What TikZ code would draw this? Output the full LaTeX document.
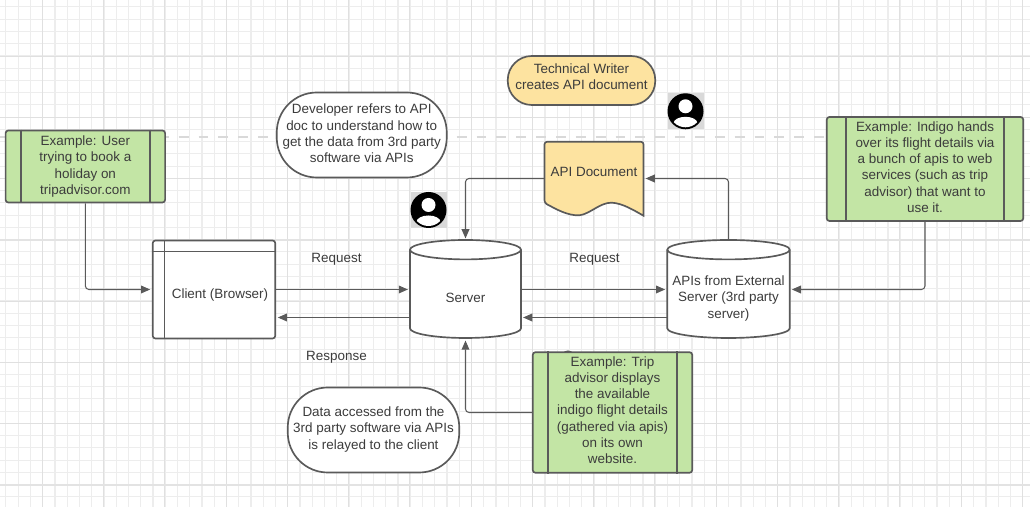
\documentclass[tikz,border=0pt]{standalone}
\usepackage{fontspec}
\setmainfont{Liberation Sans}
\usetikzlibrary{arrows.meta}

\definecolor{inkgray}{HTML}{5A5A5A}
\definecolor{textgray}{HTML}{3C3C3C}
\definecolor{notegreen}{HTML}{C3E5A5}
\definecolor{docyellow}{HTML}{FDE3A0}

% extra depth under the last line lifts a text block inside its node
\newcommand{\liftby}[1]{\rule[-#1]{0pt}{0pt}}

\tikzset{
  gridminor/.style={draw=black!7,line width=0.35pt},
  gridwide/.style={draw=black!7,line width=0.8pt},
  griddark/.style={draw=black!12,line width=0.4pt},
  gridmajor/.style={draw=black!11,line width=1.1pt},
  boxline/.style={draw=inkgray,line width=0.95pt},
  labeltext/.style={text=textgray,font=\fontsize{7.65}{9.25}\selectfont,align=center,inner sep=0pt},
  examplebox/.style={labeltext,boxline,fill=notegreen,rectangle,rounded corners=1.5pt},
  bubble/.style={labeltext,boxline,fill=white,rectangle,rounded corners=0.8cm,minimum height=1.7cm},
  flow/.style={draw=inkgray,line width=0.6pt,rounded corners=2pt,shorten >=1pt,-{Triangle[length=5.2pt,width=4.4pt]}},
  personicon/.pic={
    \fill[black!15] (-0.36,-0.36) rectangle (0.36,0.36);
    \fill[black] (0,0) circle (0.36);
    \fill[white] (0,0.1) circle (0.14);
    \begin{scope}
      \clip (0,0) circle (0.32);
      \fill[white] (0,-0.24) ellipse (0.24 and 0.13);
    \end{scope}
  }
}

\begin{document}
\begin{tikzpicture}

    \useasboundingbox (0,0) rectangle (20.6,10.14);
    \fill[white] (0,0) rectangle (20.6,10.14);

    % Grid of the drawing page
    \foreach \n in {0,...,84} \draw[gridminor] ({0.116+0.245*\n},0) -- ({0.116+0.245*\n},10.14);
    \foreach \n in {0,...,40} \draw[gridminor] (0,{0.206+0.245*\n}) -- (20.6,{0.206+0.245*\n});
    \foreach \n in {0,...,20} \draw[gridwide] ({1.1+0.98*\n},0) -- ({1.1+0.98*\n},10.14);
    \foreach \n in {0,...,9} \draw[gridwide] (0,{0.45+0.98*\n}) -- (20.6,{0.45+0.98*\n});
    \foreach \n in {0,...,16} \draw[griddark] ({0.846+1.225*\n},0) -- ({0.846+1.225*\n},10.14);
    \foreach \n in {0,...,7} \draw[griddark] (0,{0.44+1.225*\n}) -- (20.6,{0.44+1.225*\n});
    \draw[gridmajor] (0,0.44) -- (20.6,0.44);
    \draw[gridmajor] (0,5.34) -- (20.6,5.34);

    % Dashed page break
    \draw[draw=black!15,line width=1.1pt,dash pattern=on 5.6pt off 5.7pt] (0,7.4) -- (20.6,7.4);

    % Example notes
    \node[examplebox,minimum width=3.19cm,minimum height=1.44cm] (userex) at (1.707,6.81)
        {Example: User\\trying to book a\\holiday on\\tripadvisor.com};
    \node[examplebox,minimum width=3.93cm,minimum height=2.08cm] (indigoex) at (18.5,6.76)
        {Example: Indigo hands\\over its flight details via\\a bunch of apis to web\\services (such as trip\\advisor) that want to\\use it.\liftby{2.3pt}};
    \fill[inkgray] (11.36,3.08) ellipse (0.09 and 0.05);
    \node[examplebox,minimum width=3.19cm,minimum height=2.41cm] (tripex) at (12.25,1.89)
        {Example: Trip\\advisor displays\\the available\\indigo flight details\\(gathered via apis)\\on its own\\website.\liftby{2.8pt}};

    % Side bars of the example notes
    \foreach \note/\off in {userex/0.32,indigoex/0.4,tripex/0.32} {
        \draw[boxline] ([xshift=\off cm]\note.north west) -- ([xshift=\off cm]\note.south west);
        \draw[boxline] ([xshift=-\off cm]\note.north east) -- ([xshift=-\off cm]\note.south east);
    }

    % Browser window with its title strip
    \node[labeltext,boxline,fill=white,rectangle,rounded corners=1.5pt,minimum width=2.45cm,minimum height=1.96cm] (client) at (4.28,4.35) {};
    \node[labeltext] (clientlabel) at (4.4,4.24) {Client (Browser)};
    \draw[boxline] ([yshift=-0.24cm]client.north west) -- ([yshift=-0.24cm]client.north east);
    \draw[boxline] ([xshift=0.25cm]client.north west) -- ([xshift=0.25cm]client.south west);

    % Drums of the server and the external APIs
    \foreach \cx/\hw in {9.31/1.11,14.57/1.225} {
        \draw[boxline,fill=white] ({\cx-\hw},5.146) arc (180:0:\hw cm and 0.194cm) -- ({\cx+\hw},3.574)
            arc (0:-180:\hw cm and 0.194cm) -- cycle;
        \draw[boxline] ({\cx-\hw},5.146) arc (180:360:\hw cm and 0.194cm);
    }
    \node[minimum width=2.22cm,minimum height=1.96cm,inner sep=0pt] (server) at (9.31,4.35) {};
    \node[minimum width=2.45cm,minimum height=1.96cm,inner sep=0pt] (extapi) at (14.57,4.35) {};
    \node[labeltext] (serverlabel) at (9.31,4.19) {Server};
    \node[labeltext] (extapilabel) at (14.57,4.17) {APIs from External\\Server (3rd party\\server)};

    % API document with its wavy lower edge
    \draw[boxline,fill=docyellow] (10.89,6.08) .. controls (11.1,5.97) and (11.35,5.82) .. (11.59,5.834)
        .. controls (11.8,5.86) and (12.0,6.09) .. (12.23,6.086)
        .. controls (12.45,6.08) and (12.7,5.92) .. (12.87,5.826)
        [rounded corners=1.5pt] -- (12.87,7.306) -- (10.89,7.306) -- cycle;
    \node[labeltext,minimum width=1.98cm,minimum height=1.46cm] (apidoc) at (11.88,6.57) {\raisebox{0.27cm}{API Document}};

    % Speech bubbles
    \node[bubble,minimum width=3.4cm] (devnote) at (7.235,7.44)
        {Developer refers to API\\doc to understand how to\\get the data from 3rd party\\software via APIs\liftby{1.7pt}};
    \node[bubble,minimum width=3.43cm] (datanote) at (7.47,1.54)
        {Data accessed from the\\3rd party software via APIs\\is relayed to the client\liftby{2.2pt}};
    \node[labeltext,boxline,fill=docyellow,rectangle,rounded corners=0.48cm,minimum width=2.95cm,minimum height=0.98cm] (writernote) at (11.63,8.53)
        {Technical Writer\\creates API document\liftby{4pt}};

    % Person icons
    \pic (devicon) at (8.57,5.94) {personicon};
    \pic (writericon) at (13.71,7.914) {personicon};

    % Connectors
    \draw[flow] (userex.south) |- (client.west);
    \draw[flow] (client.east) -- (server.west);
    \draw[flow] ([yshift=-0.56cm]server.west) -- ([yshift=-0.56cm]client.east);
    \draw[flow] (server.east) -- (extapi.west);
    \draw[flow] ([yshift=-0.56cm]extapi.west) -- ([yshift=-0.56cm]server.east);
    \draw[flow] (indigoex.south) |- (extapi.east);
    \draw[flow] (extapi.north) |- (apidoc.east);
    \draw[flow] (apidoc.west) -| (server.north);
    \draw[flow] (tripex.west) -| (server.south);

    % Request and response labels
    \node[labeltext] (reqleft) at (6.73,4.95) {Request};
    \node[labeltext] (reqright) at (11.89,4.95) {Request};
    \node[labeltext] (respleft) at (6.73,3.0) {Response};

\end{tikzpicture}
\end{document}
